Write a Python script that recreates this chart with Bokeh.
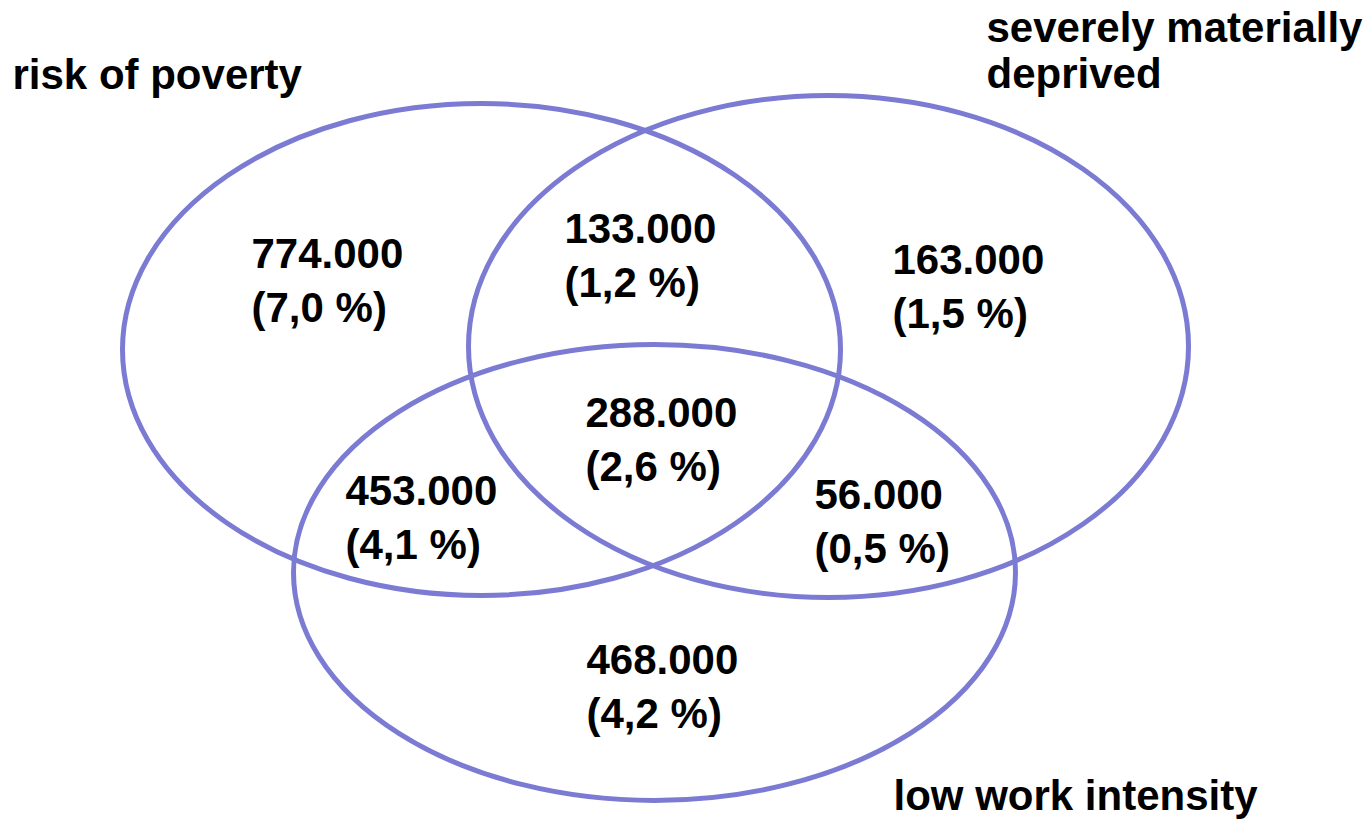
from bokeh.plotting import figure
from bokeh.models import Range1d, ColumnDataSource
from bokeh.embed import file_html
from bokeh.resources import INLINE
from bokeh.core.properties import value

# Data
set_names = ["risk of poverty", "severely materially deprived", "low work intensity"]
region_counts = ["774.000", "133.000", "163.000", "288.000", "453.000", "56.000", "468.000"]
region_shares = ["(7,0 %)", "(1,2 %)", "(1,5 %)", "(2,6 %)", "(4,1 %)", "(0,5 %)", "(4,2 %)"]

# Layout (pixel-like coordinates, y downward)
ell_x = [481, 828, 654]
ell_y = [349, 346, 572]
ell_w = [718, 720, 722]
ell_h = [492, 502, 456]

BASE_FIX = 13  # text baseline correction
lab_x = [251, 564, 892, 585, 345, 814, 586]
lab_y1 = [266, 241, 272, 425, 503, 507, 672]
line_gap = 54

FONT = value("Liberation Sans")
FS = "42px"
COLOR = "#7B7BD4"

p = figure(width=1372, height=822, output_backend="svg", toolbar_location=None,
           x_range=Range1d(0, 1372), y_range=Range1d(822, 0),
           min_border=0, min_border_left=0, min_border_right=0,
           min_border_top=0, min_border_bottom=0)
p.axis.visible = False
p.grid.visible = False
p.outline_line_color = None
p.background_fill_color = "white"
p.border_fill_color = "white"

p.ellipse(x=ell_x, y=ell_y, width=ell_w, height=ell_h, fill_color=None,
          line_color=COLOR, line_width=5)

src = ColumnDataSource(dict(x=lab_x,
                            y1=[v - BASE_FIX for v in lab_y1],
                            y2=[v + line_gap - BASE_FIX for v in lab_y1],
                            c=region_counts, s=region_shares))
p.text(x="x", y="y1", text="c", source=src, text_font=FONT, text_font_size=FS,
       text_font_style="bold", text_color="black", text_baseline="alphabetic",
       text_align="left")
p.text(x="x", y="y2", text="s", source=src, text_font=FONT, text_font_size=FS,
       text_font_style="bold", text_color="black", text_baseline="alphabetic",
       text_align="left")

# Set titles
title_x = [12, 986, 986, 893]
title_y = [v - BASE_FIX for v in [87, 40, 86, 808]]
title_txt = [set_names[0], "severely materially", "deprived", set_names[2]]
p.text(x=title_x, y=title_y, text=title_txt, text_font=FONT, text_font_size=FS,
       text_font_style="bold", text_color="black", text_baseline="alphabetic",
       text_align="left")

open("out.html", "w").write(file_html(p, INLINE))
